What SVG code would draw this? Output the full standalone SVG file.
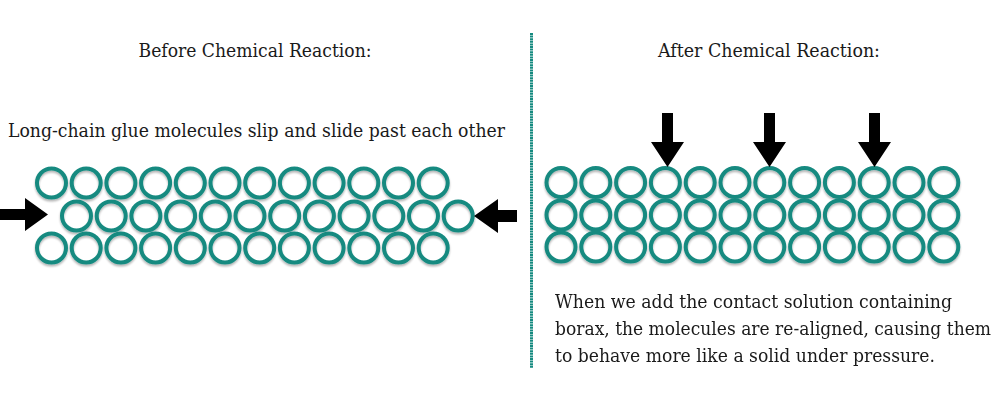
<svg xmlns="http://www.w3.org/2000/svg" width="1000" height="406" viewBox="0 0 1000 406">
<style>
.t{font-family:"DejaVu Serif","Liberation Serif",serif;fill:#1a1a1a;}
.m{fill:none;stroke:#168a80;stroke-width:4;}
.ar{fill:#000;}
</style>
<defs>
<filter id="sh" x="-10%" y="-10%" width="120%" height="130%">
<feGaussianBlur in="SourceAlpha" stdDeviation="1.2"/>
<feOffset dy="1.5"/>
<feComponentTransfer><feFuncA type="linear" slope="0.3"/></feComponentTransfer>
<feMerge><feMergeNode/><feMergeNode in="SourceGraphic"/></feMerge>
</filter>
<circle id="c" r="14.5" class="m"/>
</defs>
<rect width="1000" height="406" fill="#fff"/>

<g id="titles">
<text class="t" x="255" y="57" font-size="18" text-anchor="middle" textLength="233" lengthAdjust="spacingAndGlyphs">Before Chemical Reaction:</text>
<text class="t" x="769" y="57" font-size="18" text-anchor="middle" textLength="222" lengthAdjust="spacingAndGlyphs">After Chemical Reaction:</text>
<text class="t" x="8" y="137" font-size="19" textLength="497" lengthAdjust="spacingAndGlyphs">Long-chain glue molecules slip and slide past each other</text>
</g>

<g id="divider">
<line x1="531.5" y1="33" x2="531.5" y2="368" stroke="#168a80" stroke-width="3" stroke-dasharray="2 0.6"/>
</g>

<g id="before-molecules" filter="url(#sh)">
<g id="before-row1">
<use href="#c" x="51.5" y="183"/><use href="#c" x="86.2" y="183"/><use href="#c" x="120.9" y="183"/><use href="#c" x="155.6" y="183"/><use href="#c" x="190.3" y="183"/><use href="#c" x="225" y="183"/><use href="#c" x="259.7" y="183"/><use href="#c" x="294.4" y="183"/><use href="#c" x="329.1" y="183"/><use href="#c" x="363.8" y="183"/><use href="#c" x="398.5" y="183"/><use href="#c" x="433.2" y="183"/>
</g>
<g id="before-row2">
<use href="#c" x="76.5" y="216"/><use href="#c" x="111.2" y="216"/><use href="#c" x="145.9" y="216"/><use href="#c" x="180.6" y="216"/><use href="#c" x="215.3" y="216"/><use href="#c" x="250" y="216"/><use href="#c" x="284.7" y="216"/><use href="#c" x="319.4" y="216"/><use href="#c" x="354.1" y="216"/><use href="#c" x="388.8" y="216"/><use href="#c" x="423.5" y="216"/><use href="#c" x="458.2" y="216"/>
</g>
<g id="before-row3">
<use href="#c" x="51.5" y="248"/><use href="#c" x="86.2" y="248"/><use href="#c" x="120.9" y="248"/><use href="#c" x="155.6" y="248"/><use href="#c" x="190.3" y="248"/><use href="#c" x="225" y="248"/><use href="#c" x="259.7" y="248"/><use href="#c" x="294.4" y="248"/><use href="#c" x="329.1" y="248"/><use href="#c" x="363.8" y="248"/><use href="#c" x="398.5" y="248"/><use href="#c" x="433.2" y="248"/>
</g>
</g>

<g id="after-molecules" filter="url(#sh)">
<g id="after-row1">
<use href="#c" x="561" y="182.5"/><use href="#c" x="595.8" y="182.5"/><use href="#c" x="630.6" y="182.5"/><use href="#c" x="665.4" y="182.5"/><use href="#c" x="700.2" y="182.5"/><use href="#c" x="735" y="182.5"/><use href="#c" x="769.8" y="182.5"/><use href="#c" x="804.6" y="182.5"/><use href="#c" x="839.4" y="182.5"/><use href="#c" x="874.2" y="182.5"/><use href="#c" x="909" y="182.5"/><use href="#c" x="943.8" y="182.5"/>
</g>
<g id="after-row2">
<use href="#c" x="561" y="215"/><use href="#c" x="595.8" y="215"/><use href="#c" x="630.6" y="215"/><use href="#c" x="665.4" y="215"/><use href="#c" x="700.2" y="215"/><use href="#c" x="735" y="215"/><use href="#c" x="769.8" y="215"/><use href="#c" x="804.6" y="215"/><use href="#c" x="839.4" y="215"/><use href="#c" x="874.2" y="215"/><use href="#c" x="909" y="215"/><use href="#c" x="943.8" y="215"/>
</g>
<g id="after-row3">
<use href="#c" x="561" y="247"/><use href="#c" x="595.8" y="247"/><use href="#c" x="630.6" y="247"/><use href="#c" x="665.4" y="247"/><use href="#c" x="700.2" y="247"/><use href="#c" x="735" y="247"/><use href="#c" x="769.8" y="247"/><use href="#c" x="804.6" y="247"/><use href="#c" x="839.4" y="247"/><use href="#c" x="874.2" y="247"/><use href="#c" x="909" y="247"/><use href="#c" x="943.8" y="247"/>
</g>
</g>

<g id="arrows">
<polygon id="arrow-left-in" class="ar" points="0,209 25,209 25,198 48,214.5 25,231 25,220 0,220"/>
<polygon id="arrow-right-in" class="ar" points="517,210 498,210 498,199 474,216 498,233 498,222 517,222"/>
<polygon id="arrow-down-1" class="ar" points="662,113 673,113 673,142 684,142 667.5,167 651,142 662,142"/>
<polygon id="arrow-down-2" class="ar" points="764,113 775,113 775,142 786,142 769.5,167 753,142 764,142"/>
<polygon id="arrow-down-3" class="ar" points="869,113 880,113 880,142 891,142 874.5,167 858,142 869,142"/>
</g>

<g id="caption">
<text class="t" x="555" y="308" font-size="19" textLength="397" lengthAdjust="spacingAndGlyphs">When we add the contact solution containing</text>
<text class="t" x="555" y="335" font-size="19" textLength="436" lengthAdjust="spacingAndGlyphs">borax, the molecules are re-aligned, causing them</text>
<text class="t" x="555" y="362" font-size="19" textLength="380" lengthAdjust="spacingAndGlyphs">to behave more like a solid under pressure.</text>
</g>
</svg>
